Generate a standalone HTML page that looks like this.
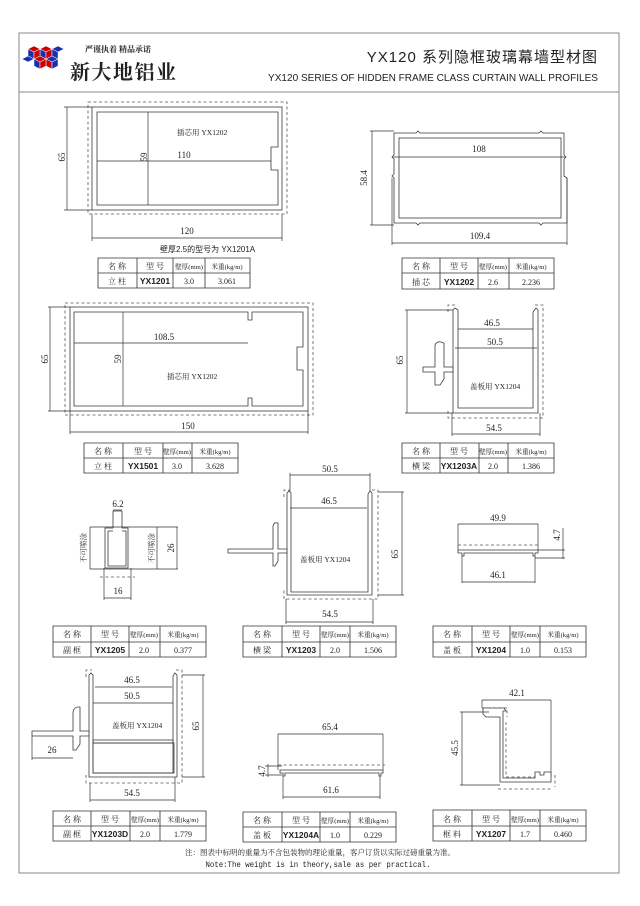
<!DOCTYPE html>
<html><head><meta charset="utf-8">
<style>
html,body{margin:0;padding:0;background:#fff;}
svg{display:block;}
.s{stroke:#3a3a3a;stroke-width:.8;fill:none;}
.f{stroke:#3a3a3a;stroke-width:.8;fill:#fff;}
.d{stroke:#555;stroke-width:.8;fill:none;stroke-dasharray:3 2.5;}
.m{stroke:#333;stroke-width:.7;fill:none;}
text{font-family:"Liberation Serif","Noto Serif CJK SC","Noto Sans CJK SC",serif;fill:#222;}
.t{font-size:9px;}
.c{font-size:8px;}
.b{font-size:8.5px;font-family:"Liberation Sans","Noto Sans CJK SC",sans-serif;font-weight:bold;}
.h{font-size:7.5px;}
.hh{font-size:6.6px;}
.sans{font-family:"Liberation Sans","Noto Sans CJK SC",sans-serif;}
</style></head><body>
<svg width="640" height="906" viewBox="0 0 640 906" xmlns="http://www.w3.org/2000/svg">
<rect x="0" y="0" width="640" height="906" fill="#fff"/>
<rect x="19" y="33" width="600" height="840" fill="none" stroke="#888" stroke-width="1"/>
<line x1="19" y1="92" x2="619" y2="92" stroke="#888" stroke-width="1"/>

<g stroke="#fff" stroke-width=".5">
<polygon points="34,46 40,49 34,52 28,49" fill="#c00"/>
<polygon points="46,46 52,49 46,52 40,49" fill="#c00"/>
<polygon points="58,46 64,49 58,52 52,49" fill="#1a2fb0"/>
<polygon points="28,49 34,52 34,59 28,56" fill="#1a2fb0"/>
<polygon points="40,49 46,52 46,59 40,56" fill="#1a2fb0"/>
<polygon points="34,52 40,49 40,56 34,59" fill="#c00"/>
<polygon points="46,52 52,49 52,56 46,59" fill="#c00"/>
<polygon points="52,49 58,52 58,59 52,56" fill="#1a2fb0"/>
<polygon points="40,56 46,59 40,62 34,59" fill="#c00"/>
<polygon points="52,56 58,59 52,62 46,59" fill="#1a2fb0"/>
<polygon points="34,59 40,62 40,69 34,66" fill="#1a2fb0"/>
<polygon points="46,59 52,62 52,69 46,66" fill="#c00"/>
<polygon points="40,62 46,59 46,66 40,69" fill="#c00"/>
<polygon points="28,56 34,59 28,62 22,59" fill="#1a2fb0"/>
<polygon points="52,62 58,59 58,66 52,69" fill="#1a2fb0"/>
</g>
<text x="85" y="52" font-size="8" font-weight="bold">严谨执着  精品承诺</text>
<text x="70" y="79" font-size="20" font-weight="bold" letter-spacing="1.5">新大地铝业</text>
<text x="598" y="62" font-size="15" text-anchor="end" style="font-family:'Liberation Sans','Noto Sans CJK SC',sans-serif" letter-spacing="1">YX120 系列隐框玻璃幕墙型材图</text>
<text x="598" y="81" font-size="10.5" text-anchor="end" style="font-family:'Liberation Sans',sans-serif" textLength="330" lengthAdjust="spacingAndGlyphs">YX120  SERIES OF HIDDEN FRAME CLASS CURTAIN WALL PROFILES</text>

<!-- Profile 1 -->
<rect x="88" y="102" width="199" height="112" class="d"/>
<rect x="92" y="107" width="190" height="103" class="f"/>
<path class="s" d="M97,112 H278 V147 H271 V170 H278 V205 H97 Z"/>
<line class="m" x1="148" y1="112" x2="148" y2="205"/>
<line class="m" x1="97" y1="161" x2="271" y2="161"/>
<line class="m" x1="67" y1="107" x2="67" y2="210"/>
<line class="m" x1="64" y1="107" x2="92" y2="107"/>
<line class="m" x1="64" y1="210" x2="92" y2="210"/>
<text class="t" transform="translate(65,157) rotate(-90)" text-anchor="middle">65</text>
<text class="t" transform="translate(147,157) rotate(-90)" text-anchor="middle">59</text>
<text class="t" x="184" y="158" text-anchor="middle">110</text>
<text class="h" x="177" y="135">插芯用   YX1202</text>
<line class="m" x1="92" y1="214" x2="92" y2="241"/>
<line class="m" x1="282" y1="214" x2="282" y2="241"/>
<line class="m" x1="92" y1="238" x2="282" y2="238"/>
<text class="t" x="187" y="234" text-anchor="middle">120</text>
<text x="160" y="252" font-size="8" class="sans">壁厚2.5的型号为 YX1201A</text>

<!-- Profile 2 -->
<path class="s" d="M394,133 H416 L418,131 L420,133 H539 L541,131 L543,133 H564 V155 L566,157 L564,159 V176 L567,178 V223 H543 L541,225 L539,223 H420 L418,225 L416,223 H394 V178 L392,176 L394,174 V159 L392,157 L394,155 Z"/>
<rect x="399" y="138" width="162" height="80" class="s"/>
<line class="m" x1="393" y1="157" x2="565" y2="157"/>
<text class="t" x="479" y="152" text-anchor="middle">108</text>
<line class="m" x1="372" y1="131" x2="372" y2="225"/>
<line class="m" x1="370" y1="131" x2="394" y2="131"/>
<line class="m" x1="370" y1="225" x2="394" y2="225"/>
<text class="t" transform="translate(367,178) rotate(-90)" text-anchor="middle">58.4</text>
<line class="m" x1="392" y1="178" x2="392" y2="245"/>
<line class="m" x1="567" y1="178" x2="567" y2="245"/>
<line class="m" x1="392" y1="243" x2="567" y2="243"/>
<text class="t" x="480" y="239" text-anchor="middle">109.4</text>

<!-- Profile 3 -->
<rect x="65" y="303" width="248" height="112" class="d"/>
<rect x="70" y="307" width="238" height="104" class="f"/>
<path class="s" d="M74,312 H248 V320 H252 V312 H303 V347 H297 V370 H303 V406 H252 V398 H248 V406 H74 Z"/>
<line class="m" x1="123" y1="312" x2="123" y2="406"/>
<line class="m" x1="74" y1="343" x2="248" y2="343"/>
<text class="t" x="164" y="340" text-anchor="middle">108.5</text>
<text class="t" transform="translate(121,359) rotate(-90)" text-anchor="middle">59</text>
<text class="h" x="167" y="379">插芯用   YX1202</text>
<line class="m" x1="50" y1="307" x2="50" y2="411"/>
<line class="m" x1="48" y1="307" x2="70" y2="307"/>
<line class="m" x1="48" y1="411" x2="70" y2="411"/>
<text class="t" transform="translate(48,359) rotate(-90)" text-anchor="middle">65</text>
<line class="m" x1="70" y1="411" x2="70" y2="434"/>
<line class="m" x1="308" y1="411" x2="308" y2="434"/>
<line class="m" x1="70" y1="432" x2="308" y2="432"/>
<text class="t" x="188" y="429" text-anchor="middle">150</text>

<!-- Profile 4 -->
<path class="d" d="M448,312 V305 H455 M535,305 H543 V418 H448 V410"/>
<path class="f" d="M453,310 L455,308 L458,310 V408 H533 V312 L536,308 L538,310 V413 H453 Z"/>
<path class="f" d="M423,367 H435 V345 Q437,341 441,342 L444,343 V367 H453 V372 H444 V379 L440,385 H435 V372 H423 Z"/>
<line class="m" x1="458" y1="329" x2="533" y2="329"/>
<text class="t" x="492" y="326" text-anchor="middle">46.5</text>
<line class="m" x1="455" y1="348" x2="537" y2="348"/>
<text class="t" x="495" y="345" text-anchor="middle">50.5</text>
<text class="h" x="470" y="389">盖板用   YX1204</text>
<line class="m" x1="407" y1="310" x2="407" y2="413"/>
<line class="m" x1="405" y1="310" x2="453" y2="310"/>
<line class="m" x1="405" y1="413" x2="453" y2="413"/>
<text class="t" transform="translate(403,360) rotate(-90)" text-anchor="middle">65</text>
<line class="m" x1="452" y1="413" x2="452" y2="436"/>
<line class="m" x1="540" y1="413" x2="540" y2="436"/>
<line class="m" x1="452" y1="434" x2="540" y2="434"/>
<text class="t" x="494" y="431" text-anchor="middle">54.5</text>

<!-- Row3 left -->
<path class="s" d="M113,511 V528 H105 V568 H128 V528 H122 V511 Z"/>
<path class="s" d="M108,531 V566 H126 V531 H122"/>
<path class="s" d="M113,531 H108"/>
<line class="m" x1="90" y1="527" x2="178" y2="527"/>
<line class="m" x1="90" y1="569" x2="178" y2="569"/>
<line class="m" x1="90" y1="527" x2="90" y2="569"/>
<line class="m" x1="157" y1="527" x2="157" y2="569"/>
<line class="m" x1="177" y1="527" x2="177" y2="569"/>
<text class="h" transform="translate(86,548) rotate(-90)" text-anchor="middle">不可喷涂</text>
<text class="h" transform="translate(154,548) rotate(-90)" text-anchor="middle">不可喷涂</text>
<text class="t" transform="translate(174,548) rotate(-90)" text-anchor="middle">26</text>
<line class="m" x1="113" y1="510" x2="122" y2="510"/>
<text class="t" x="118" y="507" text-anchor="middle">6.2</text>
<line class="d" x1="100" y1="577" x2="135" y2="577"/>
<line class="m" x1="104" y1="568" x2="104" y2="600"/>
<line class="m" x1="131" y1="568" x2="131" y2="600"/>
<line class="m" x1="104" y1="598" x2="131" y2="598"/>
<text class="t" x="118" y="594" text-anchor="middle">16</text>

<!-- Row3 middle -->
<line class="m" x1="290" y1="475" x2="370" y2="475"/>
<line class="m" x1="290" y1="473" x2="290" y2="493"/>
<line class="m" x1="370" y1="473" x2="370" y2="493"/>
<text class="t" x="330" y="472" text-anchor="middle">50.5</text>
<path class="d" d="M284,497 V490 H290 M372,490 H378 V599 H284 V590"/>
<path class="f" d="M287,493 L289,491 L291,493 V592 H368 V494 L370,491 L372,493 V595 H287 Z"/>
<path class="f" d="M228,549 H273 V526 Q274,522 277,523 L278,523 V549 H287 V553 H278 V561 L275,566 H273 V553 H228 Z"/>
<line class="m" x1="290" y1="508" x2="367" y2="508"/>
<text class="t" x="329" y="504" text-anchor="middle">46.5</text>
<text class="h" x="300" y="562">盖板用   YX1204</text>
<line class="m" x1="402" y1="492" x2="402" y2="595"/>
<line class="m" x1="378" y1="492" x2="404" y2="492"/>
<line class="m" x1="378" y1="595" x2="404" y2="595"/>
<text class="t" transform="translate(398,554) rotate(-90)" text-anchor="middle">65</text>
<line class="m" x1="286" y1="599" x2="286" y2="624"/>
<line class="m" x1="373" y1="599" x2="373" y2="624"/>
<line class="m" x1="286" y1="622" x2="373" y2="622"/>
<text class="t" x="330" y="617" text-anchor="middle">54.5</text>

<!-- Row3 right -->
<line class="m" x1="458" y1="524" x2="538" y2="524"/>
<text class="t" x="498" y="521" text-anchor="middle">49.9</text>
<line class="m" x1="458" y1="524" x2="458" y2="550"/>
<line class="m" x1="538" y1="524" x2="538" y2="550"/>
<line class="d" x1="458" y1="545" x2="540" y2="545"/>
<path class="f" d="M458,550 H538 V553 H535 V556 H533 V553 H464 V556 H462 V553 H458 Z"/>
<line class="m" x1="462" y1="556" x2="462" y2="583"/>
<line class="m" x1="535" y1="556" x2="535" y2="583"/>
<line class="m" x1="462" y1="582" x2="535" y2="582"/>
<text class="t" x="498" y="578" text-anchor="middle">46.1</text>
<line class="m" x1="563" y1="528" x2="563" y2="559"/>
<line class="m" x1="538" y1="550" x2="565" y2="550"/>
<line class="m" x1="535" y1="558" x2="565" y2="558"/>
<text class="t" transform="translate(560,535) rotate(-90)" text-anchor="middle">4.7</text>

<!-- Row4 left -->
<path class="d" d="M86,677 V670 H92 M176,670 H182 V783 H86 V775"/>
<path class="f" d="M89,675 L91,673 L93,675 V773 H173 V676 L175,673 L177,675 V777 H89 Z"/>
<rect x="93" y="740" width="80" height="3" class="s"/>
<rect x="93" y="743" width="81" height="30" class="s"/>
<path class="f" d="M32,731 H73 V712 Q74,707 78,707 L80,707 V731 H89 V736 H80 V744 L76,750 H73 V736 H32 Z"/>
<line class="m" x1="95" y1="687" x2="172" y2="687"/>
<text class="t" x="132" y="683" text-anchor="middle">46.5</text>
<line class="m" x1="93" y1="703" x2="173" y2="703"/>
<text class="t" x="132" y="699" text-anchor="middle">50.5</text>
<text class="h" x="112" y="728">盖板用   YX1204</text>
<line class="m" x1="32" y1="736" x2="32" y2="760"/>
<line class="m" x1="32" y1="758" x2="73" y2="758"/>
<text class="t" x="52" y="753" text-anchor="middle">26</text>
<line class="m" x1="203" y1="675" x2="203" y2="777"/>
<line class="m" x1="182" y1="675" x2="205" y2="675"/>
<line class="m" x1="182" y1="777" x2="205" y2="777"/>
<text class="t" transform="translate(199,726) rotate(-90)" text-anchor="middle">65</text>
<line class="m" x1="90" y1="783" x2="90" y2="802"/>
<line class="m" x1="175" y1="777" x2="175" y2="802"/>
<line class="m" x1="90" y1="800" x2="175" y2="800"/>
<text class="t" x="132" y="796" text-anchor="middle">54.5</text>

<!-- Row4 middle -->
<line class="m" x1="278" y1="734" x2="383" y2="734"/>
<text class="t" x="330" y="730" text-anchor="middle">65.4</text>
<line class="m" x1="278" y1="734" x2="278" y2="770"/>
<line class="m" x1="383" y1="734" x2="383" y2="770"/>
<line class="d" x1="278" y1="765" x2="385" y2="765"/>
<path class="f" d="M280,770 H383 V773 H381 V776 H379 V773 H285 V776 H283 V773 H280 Z"/>
<line class="m" x1="283" y1="776" x2="283" y2="799"/>
<line class="m" x1="380" y1="776" x2="380" y2="799"/>
<line class="m" x1="283" y1="797" x2="380" y2="797"/>
<text class="t" x="331" y="793" text-anchor="middle">61.6</text>
<line class="m" x1="268" y1="764" x2="268" y2="777"/>
<line class="m" x1="265" y1="766" x2="282" y2="766"/>
<line class="m" x1="265" y1="775" x2="282" y2="775"/>
<text class="t" transform="translate(265,771) rotate(-90)" text-anchor="middle">4.7</text>

<!-- Row4 right -->
<line class="m" x1="482" y1="700" x2="551" y2="700"/>
<text class="t" x="517" y="696" text-anchor="middle">42.1</text>
<line class="m" x1="482" y1="700" x2="482" y2="708"/>
<line class="m" x1="551" y1="700" x2="551" y2="777"/>
<path class="d" d="M482,708 H507 V717 M506,722 V777 H535 M498,789 H552 M555,775 V787"/>
<path class="f" d="M483,708 H504 L506,711 H503 V778 H535 V772 H540 V775 H544 V772 H551 V782 H500 V717 H486 L483,714 Z"/>
<line class="m" x1="462" y1="712" x2="462" y2="785"/>
<line class="m" x1="460" y1="712" x2="489" y2="712"/>
<line class="m" x1="460" y1="785" x2="500" y2="785"/>
<text class="t" transform="translate(458,748) rotate(-90)" text-anchor="middle">45.5</text>

<!-- Tables -->
<g stroke="#333" stroke-width=".8" fill="none">
<path d="M98,258 H250 V288 H98 Z M98,273 H250 M137,258 V288 M173,258 V288 M205,258 V288"/>
<path d="M402,258 H554 V289 H402 Z M402,273 H554 M440,258 V289 M478,258 V289 M509,258 V289"/>
<path d="M84,443 H238 V473 H84 Z M84,458 H238 M123,443 V473 M163,443 V473 M192,443 V473"/>
<path d="M402,443 H554 V473 H402 Z M402,458 H554 M440,443 V473 M479,443 V473 M508,443 V473"/>
<path d="M53,626 H206 V657 H53 Z M53,642 H206 M91,626 V657 M129,626 V657 M160,626 V657"/>
<path d="M243,626 H396 V657 H243 Z M243,642 H396 M282,626 V657 M320,626 V657 M350,626 V657"/>
<path d="M433,626 H586 V657 H433 Z M433,642 H586 M472,626 V657 M510,626 V657 M540,626 V657"/>
<path d="M53,811 H206 V841 H53 Z M53,826 H206 M91,811 V841 M130,811 V841 M160,811 V841"/>
<path d="M243,812 H396 V842 H243 Z M243,827 H396 M282,812 V842 M320,812 V842 M350,812 V842"/>
<path d="M433,810 H586 V841 H433 Z M433,826 H586 M472,810 V841 M510,810 V841 M540,810 V841"/>
</g>
<g text-anchor="middle">
<text class="c" x="117" y="269">名 称</text><text class="c" x="155" y="269">型 号</text><text class="hh" x="189" y="269">壁厚(mm)</text><text class="hh" x="227" y="269">米重(kg/m)</text>
<text class="c" x="117" y="284">立  柱</text><text class="b" x="155" y="284">YX1201</text><text class="c" x="189" y="284">3.0</text><text class="c" x="227" y="284">3.061</text>
<text class="c" x="421" y="269">名 称</text><text class="c" x="459" y="269">型 号</text><text class="hh" x="493" y="269">壁厚(mm)</text><text class="hh" x="531" y="269">米重(kg/m)</text>
<text class="c" x="421" y="285">插  芯</text><text class="b" x="459" y="285">YX1202</text><text class="c" x="493" y="285">2.6</text><text class="c" x="531" y="285">2.236</text>
<text class="c" x="103" y="454">名 称</text><text class="c" x="143" y="454">型 号</text><text class="hh" x="177" y="454">壁厚(mm)</text><text class="hh" x="215" y="454">米重(kg/m)</text>
<text class="c" x="103" y="469">立  柱</text><text class="b" x="143" y="469">YX1501</text><text class="c" x="177" y="469">3.0</text><text class="c" x="215" y="469">3.628</text>
<text class="c" x="421" y="454">名 称</text><text class="c" x="459" y="454">型 号</text><text class="hh" x="493" y="454">壁厚(mm)</text><text class="hh" x="531" y="454">米重(kg/m)</text>
<text class="c" x="421" y="469">横  梁</text><text class="b" x="459" y="469">YX1203A</text><text class="c" x="493" y="469">2.0</text><text class="c" x="531" y="469">1.386</text>
<text class="c" x="72" y="637">名 称</text><text class="c" x="110" y="637">型 号</text><text class="hh" x="144" y="637">壁厚(mm)</text><text class="hh" x="183" y="637">米重(kg/m)</text>
<text class="c" x="72" y="653">副  框</text><text class="b" x="110" y="653">YX1205</text><text class="c" x="144" y="653">2.0</text><text class="c" x="183" y="653">0.377</text>
<text class="c" x="262" y="637">名 称</text><text class="c" x="301" y="637">型 号</text><text class="hh" x="335" y="637">壁厚(mm)</text><text class="hh" x="373" y="637">米重(kg/m)</text>
<text class="c" x="262" y="653">横  梁</text><text class="b" x="301" y="653">YX1203</text><text class="c" x="335" y="653">2.0</text><text class="c" x="373" y="653">1.506</text>
<text class="c" x="452" y="637">名 称</text><text class="c" x="491" y="637">型 号</text><text class="hh" x="525" y="637">壁厚(mm)</text><text class="hh" x="563" y="637">米重(kg/m)</text>
<text class="c" x="452" y="653">盖  板</text><text class="b" x="491" y="653">YX1204</text><text class="c" x="525" y="653">1.0</text><text class="c" x="563" y="653">0.153</text>
<text class="c" x="72" y="822">名 称</text><text class="c" x="110" y="822">型 号</text><text class="hh" x="145" y="822">壁厚(mm)</text><text class="hh" x="183" y="822">米重(kg/m)</text>
<text class="c" x="72" y="837">副  框</text><text class="b" x="110" y="837">YX1203D</text><text class="c" x="145" y="837">2.0</text><text class="c" x="183" y="837">1.779</text>
<text class="c" x="262" y="823">名 称</text><text class="c" x="301" y="823">型 号</text><text class="hh" x="335" y="823">壁厚(mm)</text><text class="hh" x="373" y="823">米重(kg/m)</text>
<text class="c" x="262" y="838">盖  板</text><text class="b" x="301" y="838">YX1204A</text><text class="c" x="335" y="838">1.0</text><text class="c" x="373" y="838">0.229</text>
<text class="c" x="452" y="822">名 称</text><text class="c" x="491" y="822">型 号</text><text class="hh" x="525" y="822">壁厚(mm)</text><text class="hh" x="563" y="822">米重(kg/m)</text>
<text class="c" x="452" y="837">框  料</text><text class="b" x="491" y="837">YX1207</text><text class="c" x="525" y="837">1.7</text><text class="c" x="563" y="837">0.460</text>
</g>

<text x="320" y="855" font-size="7.5" text-anchor="middle">注：图表中标明的重量为不含包装物的理论重量，客户订货以实际过磅重量为准。</text>
<text x="318" y="867" font-size="8" text-anchor="middle" style="font-family:'Liberation Mono',monospace" textLength="225" lengthAdjust="spacingAndGlyphs">Note:The weight is in theory,sale as per practical.</text>
</svg>
</body></html>
